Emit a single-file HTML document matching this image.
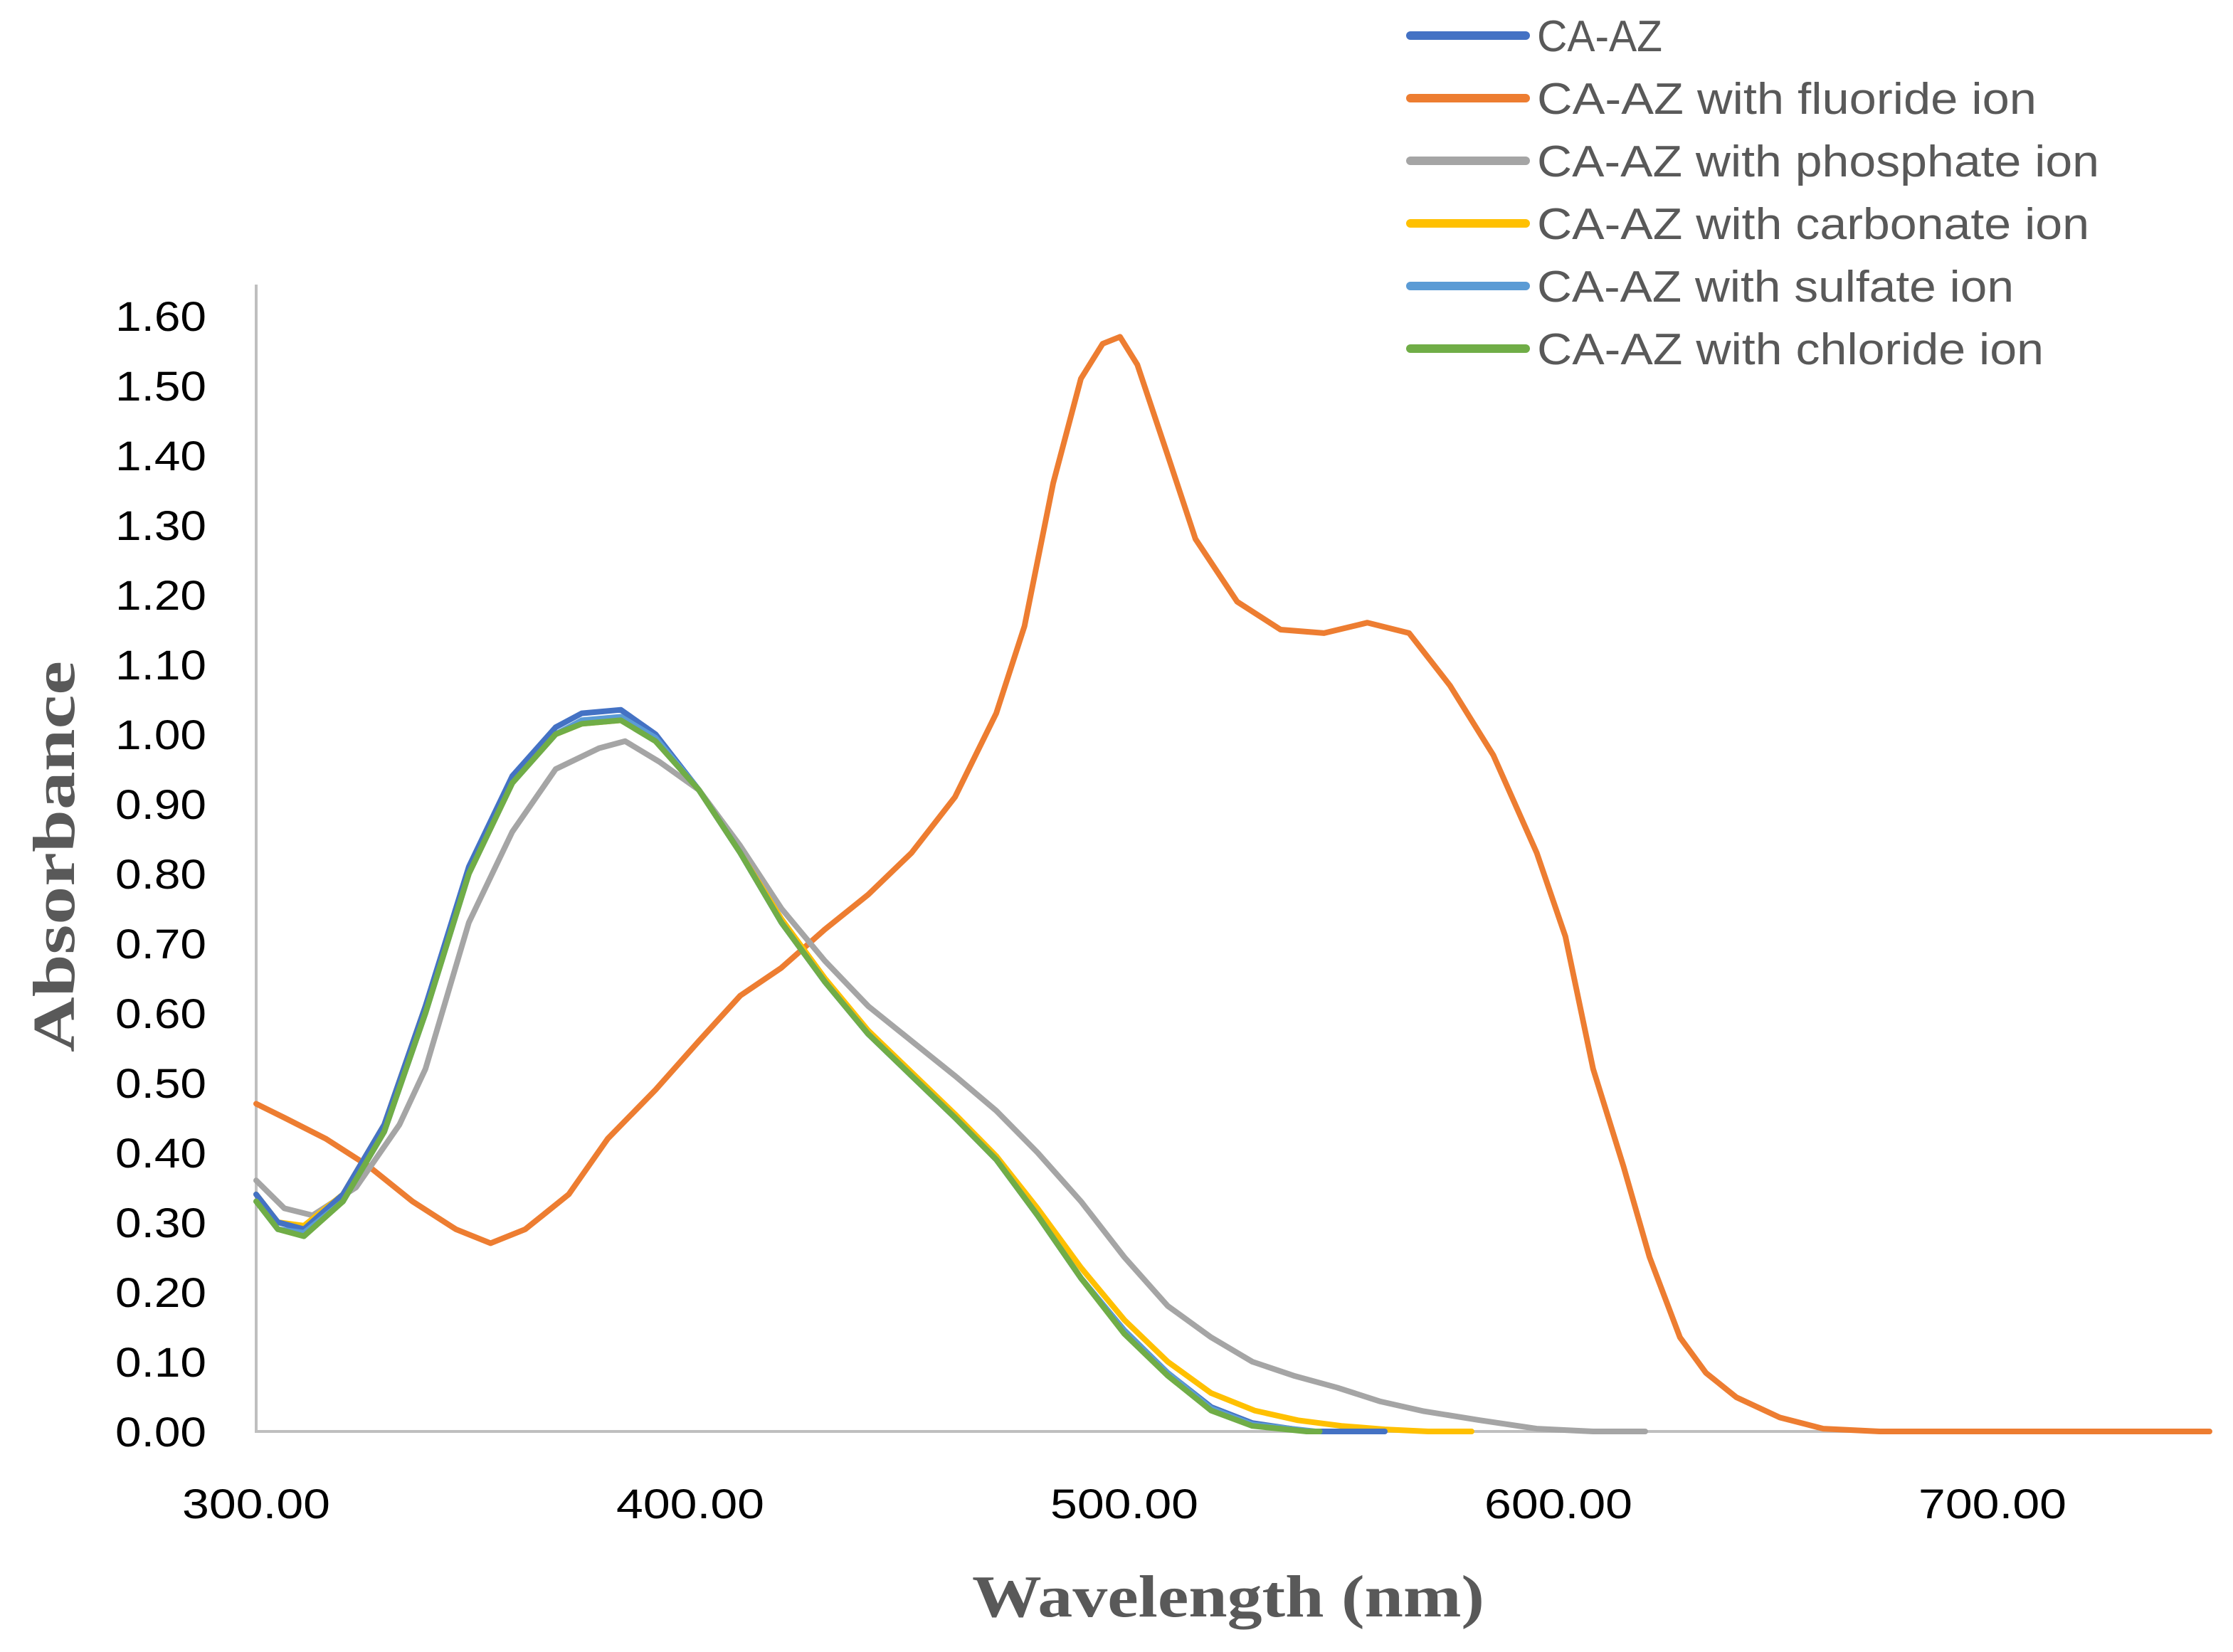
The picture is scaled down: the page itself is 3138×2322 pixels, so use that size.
<!DOCTYPE html>
<html><head><meta charset="utf-8"><style>
html,body{margin:0;padding:0;background:#fff;}
svg{display:block;}
</style></head><body>
<svg id="chart" width="3138" height="2322" viewBox="0 0 3138 2322" xmlns="http://www.w3.org/2000/svg">
<g id="axes"></g>
<g id="series"></g>
<g id="legend"></g>
<text transform="translate(104,1204) rotate(-90)" text-anchor="middle" font-family="Liberation Serif, serif" font-weight="bold" font-size="84" fill="#595959" textLength="550" lengthAdjust="spacingAndGlyphs">Absorbance</text>
<text x="1726" y="2272" text-anchor="middle" font-family="Liberation Serif, serif" font-weight="bold" font-size="84" fill="#595959" textLength="720" lengthAdjust="spacingAndGlyphs">Wavelength (nm)</text>
</svg>
<script>
const xTicks = [300, 400, 500, 600, 700];
const yTicks = [0,0.1,0.2,0.3,0.4,0.5,0.6,0.7,0.8,0.9,1.0,1.1,1.2,1.3,1.4,1.5,1.6];
const seriesNames = ["CA-AZ","CA-AZ with fluoride ion","CA-AZ with phosphate ion","CA-AZ with carbonate ion","CA-AZ with sulfate ion","CA-AZ with chloride ion"];
const blueX = [300,305,311,320,329.5,339,349,359,369,375,384,392,402,411.5,421,431,441,451,461,470.5,480,490,500,510,520,529.5,542.6,560];
const blueY = [0.34,0.30,0.29,0.34,0.44,0.61,0.81,0.94,1.01,1.03,1.035,1.00,0.92,0.83,0.73,0.645,0.57,0.51,0.45,0.39,0.31,0.22,0.145,0.084,0.035,0.012,0.0,0.0];
const orangeX = [300,306.5,316,326,336,346,354,362,372,381,392,402,411.5,421,431,441,451,461,470.5,477,483.6,490,495,499,503,510,516.4,526,536,546,556,565.6,575,585,595,601.6,608,615,621,628,634,641,651,661,674,750];
const orangeY = [0.47,0.45,0.42,0.38,0.33,0.29,0.27,0.29,0.34,0.42,0.49,0.56,0.625,0.665,0.72,0.77,0.83,0.91,1.03,1.155,1.36,1.51,1.56,1.57,1.53,1.40,1.28,1.19,1.15,1.145,1.16,1.145,1.07,0.97,0.83,0.71,0.52,0.38,0.25,0.135,0.084,0.049,0.02,0.004,0.0,0.0];
const grayX = [300,306.5,313,323,333,339,349,359,369,379,385,393,402,411.5,421,431,441,451,461,470.5,480,490,500,510,520,529.5,539,549,559,569,582,595,608,620];
const grayY = [0.36,0.32,0.31,0.35,0.44,0.52,0.73,0.86,0.95,0.98,0.99,0.96,0.92,0.84,0.75,0.675,0.61,0.56,0.51,0.46,0.40,0.33,0.25,0.18,0.135,0.10,0.08,0.063,0.043,0.029,0.016,0.004,0.0,0.0];
const yellowX = [300,305,311,320,329.5,339,349,359,369,375,384,392,402,411.5,421,431,441,451,461,470.5,480,490,500,510,520,530,540,550,560,570,580];
const yellowY = [0.34,0.30,0.295,0.34,0.44,0.61,0.80,0.93,1.00,1.015,1.02,0.995,0.92,0.83,0.735,0.65,0.575,0.515,0.455,0.395,0.32,0.235,0.16,0.10,0.055,0.03,0.016,0.008,0.003,0.0,0.0];
const sulfateX = [300,305,311,320,329.5,339,349,359,369,375,384,392,402,411.5,421,431,441,451,461,470.5,480,490,500,510,520,529.5,544];
const sulfateY = [0.33,0.29,0.285,0.33,0.43,0.60,0.80,0.93,1.00,1.02,1.025,0.995,0.92,0.83,0.73,0.645,0.57,0.51,0.45,0.39,0.31,0.22,0.145,0.084,0.033,0.01,0.0];
const greenX = [300,305,311,320,329.5,339,349,359,369,375,384,392,402,411.5,421,431,441,451,461,470.5,480,490,500,510,520,529.5,542,545];
const greenY = [0.33,0.29,0.28,0.33,0.43,0.60,0.80,0.93,1.00,1.015,1.02,0.99,0.92,0.83,0.73,0.645,0.57,0.51,0.45,0.39,0.31,0.22,0.14,0.08,0.03,0.008,0.0,0.0];

const NS = "http://www.w3.org/2000/svg";
const X0 = 360, PXNM = 6.1, Y0 = 2012, PXV = 980;
function xs(v){ return X0 + (v-300)*PXNM; }
function ys(v){ return Y0 - v*PXV; }
const axes = document.getElementById('axes');
const series = document.getElementById('series');
const legend = document.getElementById('legend');

let ax = document.createElementNS(NS,'path');
ax.setAttribute('d', `M${xs(300)},400 L${xs(300)},${ys(0)} L${xs(748.5)},${ys(0)}`);
ax.setAttribute('stroke','#bfbfbf'); ax.setAttribute('stroke-width','4'); ax.setAttribute('fill','none');


axes.appendChild(ax);

yTicks.forEach(t=>{
  const tx = document.createElementNS(NS,'text');
  tx.setAttribute('x', 290); tx.setAttribute('y', ys(t)+21);
  tx.setAttribute('text-anchor','end');
  tx.setAttribute('font-family','Liberation Sans, sans-serif');
  tx.setAttribute('font-size','58'); tx.setAttribute('fill','#000');
  tx.setAttribute('textLength','128'); tx.setAttribute('lengthAdjust','spacingAndGlyphs');
  tx.textContent = t.toFixed(2);
  
  
  axes.appendChild(tx);
});
xTicks.forEach(t=>{
  const tx = document.createElementNS(NS,'text');
  tx.setAttribute('x', xs(t)); tx.setAttribute('y', 2134);
  tx.setAttribute('text-anchor','middle');
  tx.setAttribute('font-family','Liberation Sans, sans-serif');
  tx.setAttribute('font-size','58'); tx.setAttribute('fill','#000');
  tx.setAttribute('textLength','208'); tx.setAttribute('lengthAdjust','spacingAndGlyphs');
  tx.textContent = t.toFixed(2);
  
  
  axes.appendChild(tx);
});

const colors = ["#4472C4","#ED7D31","#A5A5A5","#FFC000","#5B9BD5","#70AD47"];
const allX = [blueX,orangeX,grayX,yellowX,sulfateX,greenX];
const allY = [blueY,orangeY,grayY,yellowY,sulfateY,greenY];
const seriesKeys = ["ca-az","fluoride","phosphate","carbonate","sulfate","chloride"];
[1,2,3,0,4,5].forEach(i=>{
  const p = document.createElementNS(NS,'path');
  const d = allX[i].map((x,j)=>(j?'L':'M')+xs(x).toFixed(1)+','+ys(allY[i][j]).toFixed(1)).join(' ');
  p.setAttribute('d', d);
  p.setAttribute('stroke', colors[i]); p.setAttribute('stroke-width','8');
  p.setAttribute('fill','none'); p.setAttribute('stroke-linejoin','round'); p.setAttribute('stroke-linecap','round');
  
  
  series.appendChild(p);
});

const textLens = [176,702,790,776,670,712];
seriesNames.forEach((n,i)=>{
  const y = 50 + i*88;
  const g = document.createElementNS(NS,'g');
  
  
  const l = document.createElementNS(NS,'line');
  l.setAttribute('x1',1982); l.setAttribute('x2',2144); l.setAttribute('y1',y); l.setAttribute('y2',y);
  l.setAttribute('stroke',colors[i]); l.setAttribute('stroke-width','12'); l.setAttribute('stroke-linecap','round');
  
  
  g.appendChild(l);
  const t = document.createElementNS(NS,'text');
  t.setAttribute('x',2160); t.setAttribute('y',y+22);
  t.setAttribute('font-family','Liberation Sans, sans-serif');
  t.setAttribute('font-size','62'); t.setAttribute('fill','#595959');
  t.setAttribute('textLength',textLens[i]); t.setAttribute('lengthAdjust','spacingAndGlyphs');
  t.textContent = n;
  
  
  g.appendChild(t);
  legend.appendChild(g);
});
</script>
</body></html>
